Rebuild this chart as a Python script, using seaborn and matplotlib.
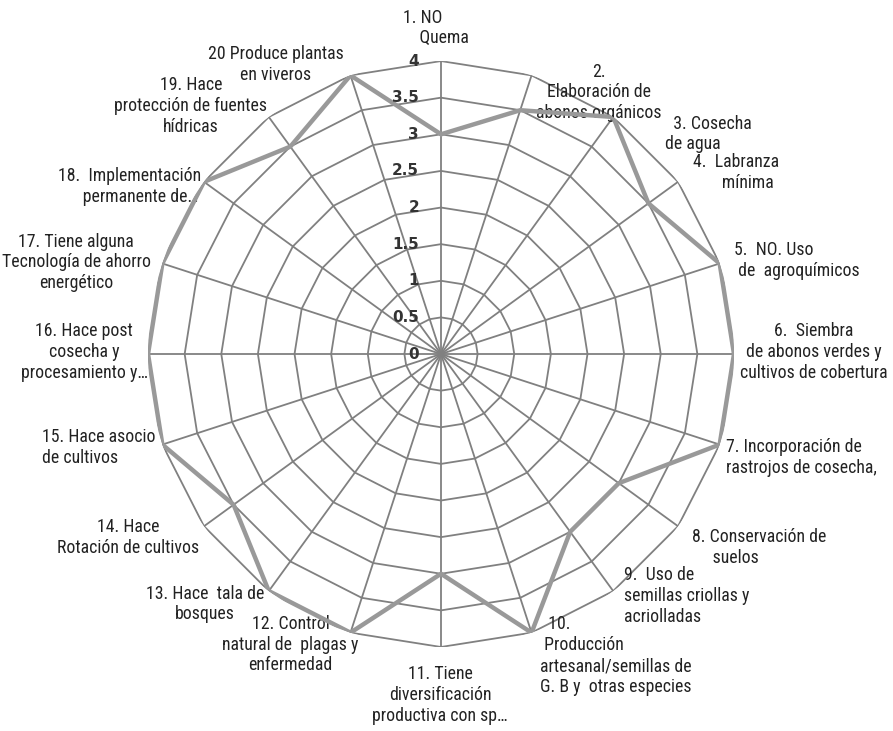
import numpy as np
import matplotlib
matplotlib.use("Agg")
import matplotlib.pyplot as plt
import seaborn as sns
from matplotlib import font_manager

# =====================================================
# DATA
# =====================================================

categories = [
    "1. NO\n    Quema",
    "2.\nElaboración de\nabonos orgánicos",
    "  3. Cosecha\nde agua",
    "4.  Labranza\n       mínima",
    "5.  NO. Uso\n de  agroquímicos",
    "6.  Siembra\nde abonos verdes y\ncultivos de cobertura",
    "7. Incorporación de\nrastrojos de cosecha,",
    "8. Conservación de\n     suelos",
    "9.  Uso de\nsemillas criollas y\nacriolladas",
    "  10.\n Producción\nartesanal/semillas de\nG. B y  otras especies",
    "11. Tiene\ndiversificación\nproductiva con sp…",
    "12. Control\nnatural de  plagas y\nenfermedad",
    "13. Hace  tala de\nbosques",
    "14. Hace\nRotación de cultivos",
    "15. Hace asocio\nde cultivos",
    "16. Hace post\ncosecha y\nprocesamiento y…",
    "17. Tiene alguna\nTecnología de ahorro\nenergético",
    "18.  Implementación\n      permanente de…",
    "19. Hace\nprotección de fuentes\nhídricas",
    "20 Produce plantas\nen viveros",
]

values = [3, 3.5, 4, 3.5, 4, 4, 4, 3, 3, 4, 3, 4, 4, 3.5, 4, 4, 4, 4, 3.5, 4]

levels = [0.5, 1, 1.5, 2, 2.5, 3, 3.5, 4]
level_labels = ["0", "0.5", "1", "1.5", "2", "2.5", "3", "3.5", "4"]

# label layout: offset (px) from outer vertex, multialignment
label_offsets = [
    (-5, 33), (67, -17), (95, -17), (58, 9), (77, 3),
    (80, 2), (82, -13), (81, -21), (73, -5), (84, -23),
    (-1, -48), (-60, -12), (-64, -13), (-76, -11), (-64, -3),
    (-64, 2), (-86, 1), (-74, -5), (-78, 11), (-75, 11),
]
label_align = [
    "left", "center", "left", "left", "left",
    "center", "left", "left", "left", "left",
    "center", "center", "center", "center", "left",
    "center", "center", "left", "center", "center",
]

# =====================================================
# FONTS
# =====================================================

sns.set_style("white")

label_font = "DejaVu Sans"
for name in ["Roboto Condensed", "Liberation Sans Narrow", "DejaVu Sans Condensed"]:
    try:
        font_manager.findfont(name, fallback_to_default=False)
        label_font = name
        break
    except Exception:
        pass

plt.rcParams["font.family"] = [label_font, "DejaVu Sans"]

# =====================================================
# PLOT
# =====================================================

n = len(categories)
angles = np.arange(n) * 2 * np.pi / n
grid_color = "#808080"

fig = plt.figure(figsize=(8.93, 7.31), dpi=100)
ax = fig.add_axes([0.1657, 0.1149, 0.6563, 0.8016], projection="polar")
ax.set_theta_zero_location("N")
ax.set_theta_direction(-1)
ax.set_ylim(0, 4)
ax.grid(False)
ax.spines["polar"].set_visible(False)
ax.set_xticks([])
ax.set_yticks([])

closed = np.append(angles, angles[0])

# polygon web
for lv in levels:
    sns.lineplot(x=closed, y=[lv] * (n + 1), ax=ax, color=grid_color,
                 lw=1.3, sort=False, estimator=None)
for a in angles:
    ax.plot([a, a], [0, 4], color=grid_color, lw=1.3)

# data line
sns.lineplot(x=closed, y=np.append(values, values[0]), ax=ax,
             color="#999999", lw=3.2, sort=False, estimator=None, zorder=5)

# radial tick labels
for lv, txt in zip([0] + levels, level_labels):
    ax.annotate(txt, xy=(0, lv), xytext=(-22, 0), textcoords="offset pixels",
                ha="right", va="center", fontsize=11, fontweight="bold",
                color="#333333", family="DejaVu Sans", zorder=6)

# category labels
for a, lab, (dx, dy), al in zip(angles, categories, label_offsets, label_align):
    ax.annotate(lab, xy=(a, 4), xytext=(dx, dy), textcoords="offset pixels",
                ha="center", va="center", multialignment=al,
                fontsize=12.8, color="#222222", linespacing=1.2,
                annotation_clip=False)

fig.savefig("out.png", dpi=100)
